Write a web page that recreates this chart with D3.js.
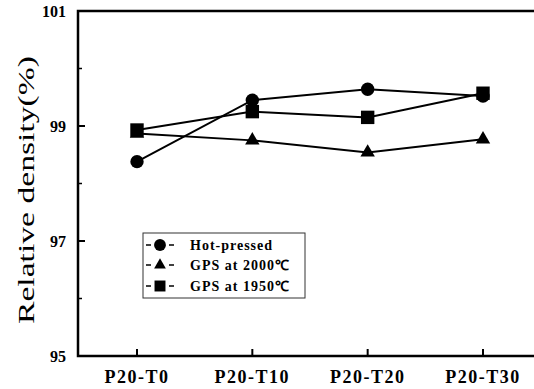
<!DOCTYPE html>
<html>
<head>
<meta charset="utf-8">
<script src="https://cdn.jsdelivr.net/npm/d3@7"></script>
<style>
  body { margin: 0; background: #fff; }
  text { font-family: "Liberation Serif", "Times New Roman", serif; fill: #000; }
</style>
</head>
<body>
<div id="chart"></div>
<script>
var categories = ["P20-T0", "P20-T10", "P20-T20", "P20-T30"];
var hotPressed = [98.38, 99.45, 99.64, 99.52];
var gps2000 = [98.87, 98.75, 98.54, 98.77];
var gps1950 = [98.93, 99.25, 99.15, 99.57];
var yMajorTicks = [95, 97, 99, 101];
var yMinorTicks = [96, 98, 100];
var seriesNames = ["Hot-pressed", "GPS at 2000\u2103", "GPS at 1950\u2103"];

function drawChart()
{
  var width = 534, height = 389;
  var plotLeft = 78, plotTop = 11, plotRight = 534, plotBottom = 356;

  var svg = d3.select("#chart")
    .append("svg")
    .attr("width", width)
    .attr("height", height);

  var x = d3.scalePoint()
    .domain(categories)
    .range([137, 483]);

  var y = d3.scaleLinear()
    .domain([95, 101])
    .range([plotBottom, plotTop]);

  // frame: left spine, bottom axis, top line (no right spine)
  svg.append("path")
    .attr("d", "M" + plotRight + "," + plotTop + " L" + plotLeft + "," + plotTop + " L" + plotLeft + "," + plotBottom + " L" + plotRight + "," + plotBottom)
    .attr("fill", "none")
    .attr("stroke", "#000")
    .attr("stroke-width", 2.5);

  // Y ticks (inward)
  svg.selectAll(".ymaj")
    .data(yMajorTicks.slice(1, 3))
    .enter().append("line")
    .attr("x1", plotLeft).attr("x2", plotLeft + 7)
    .attr("y1", function(d) { return y(d); })
    .attr("y2", function(d) { return y(d); })
    .attr("stroke", "#000").attr("stroke-width", 2);

  svg.selectAll(".ymin")
    .data(yMinorTicks)
    .enter().append("line")
    .attr("x1", plotLeft).attr("x2", plotLeft + 4)
    .attr("y1", function(d) { return y(d); })
    .attr("y2", function(d) { return y(d); })
    .attr("stroke", "#000").attr("stroke-width", 1.5);

  svg.selectAll(".ylab")
    .data(yMajorTicks)
    .enter().append("text")
    .attr("x", 66)
    .attr("y", function(d) { return y(d); })
    .attr("dy", "0.35em")
    .attr("text-anchor", "end")
    .style("font-size", "16px")
    .style("font-weight", "bold")
    .text(function(d) { return d; });

  // X ticks (inward) and labels
  svg.selectAll(".xtick")
    .data(categories)
    .enter().append("line")
    .attr("x1", function(d) { return x(d); })
    .attr("x2", function(d) { return x(d); })
    .attr("y1", plotBottom).attr("y2", plotBottom - 7)
    .attr("stroke", "#000").attr("stroke-width", 2);

  svg.selectAll(".xlab")
    .data(categories)
    .enter().append("text")
    .attr("x", function(d) { return x(d); })
    .attr("y", 383)
    .attr("text-anchor", "middle")
    .style("font-size", "18px")
    .style("font-weight", "bold")
    .style("letter-spacing", "1.5px")
    .text(function(d) { return d; });

  // Y axis title
  svg.append("text")
    .attr("transform", "translate(34,190) rotate(-90)")
    .attr("text-anchor", "middle")
    .attr("textLength", 268)
    .attr("lengthAdjust", "spacingAndGlyphs")
    .style("font-size", "24px")
    .text("Relative density(%)");

  // lines
  var line = d3.line()
    .x(function(d, i) { return x(categories[i]); })
    .y(function(d) { return y(d); });

  [hotPressed, gps2000, gps1950].forEach(function(s) {
    svg.append("path")
      .datum(s)
      .attr("fill", "none")
      .attr("stroke", "#000")
      .attr("stroke-width", 2)
      .attr("d", line);
  });

  var circleSym = d3.symbol().type(d3.symbolCircle).size(140);
  var triSym = d3.symbol().type(d3.symbolTriangle).size(90);
  var sqSym = d3.symbol().type(d3.symbolSquare).size(180);

  function drawMarkers(s, sym) {
    svg.selectAll(null)
      .data(s)
      .enter().append("path")
      .attr("d", sym)
      .attr("fill", "#000")
      .attr("transform", function(d, i) { return "translate(" + x(categories[i]) + "," + y(d) + ")"; });
  }
  drawMarkers(gps2000, triSym);
  drawMarkers(gps1950, sqSym);
  drawMarkers(hotPressed, circleSym);

  // Legend
  var legend = svg.append("g").attr("transform", "translate(143,233)");
  legend.append("rect")
    .attr("width", 162).attr("height", 65)
    .attr("fill", "#fff")
    .attr("stroke", "#333")
    .attr("stroke-width", 1);

  var syms = [
    d3.symbol().type(d3.symbolCircle).size(110),
    d3.symbol().type(d3.symbolTriangle).size(60),
    d3.symbol().type(d3.symbolSquare).size(120)
  ];
  var rowY = [12, 32, 53];

  seriesNames.forEach(function(name, i) {
    var g = legend.append("g").attr("transform", "translate(0," + rowY[i] + ")");
    g.append("line").attr("x1", 3).attr("x2", 8).attr("y1", 0).attr("y2", 0)
      .attr("stroke", "#000").attr("stroke-width", 1.5);
    g.append("line").attr("x1", 26).attr("x2", 31).attr("y1", 0).attr("y2", 0)
      .attr("stroke", "#000").attr("stroke-width", 1.5);
    g.append("path").attr("d", syms[i]).attr("transform", "translate(17,0)").attr("fill", "#000");
    g.append("text")
      .attr("x", 47)
      .attr("y", 0)
      .attr("dy", "0.35em")
      .style("font-size", "14px")
      .style("font-weight", "bold")
      .style("letter-spacing", "1px")
      .text(name);
  });
}

drawChart();
</script>
</body>
</html>
